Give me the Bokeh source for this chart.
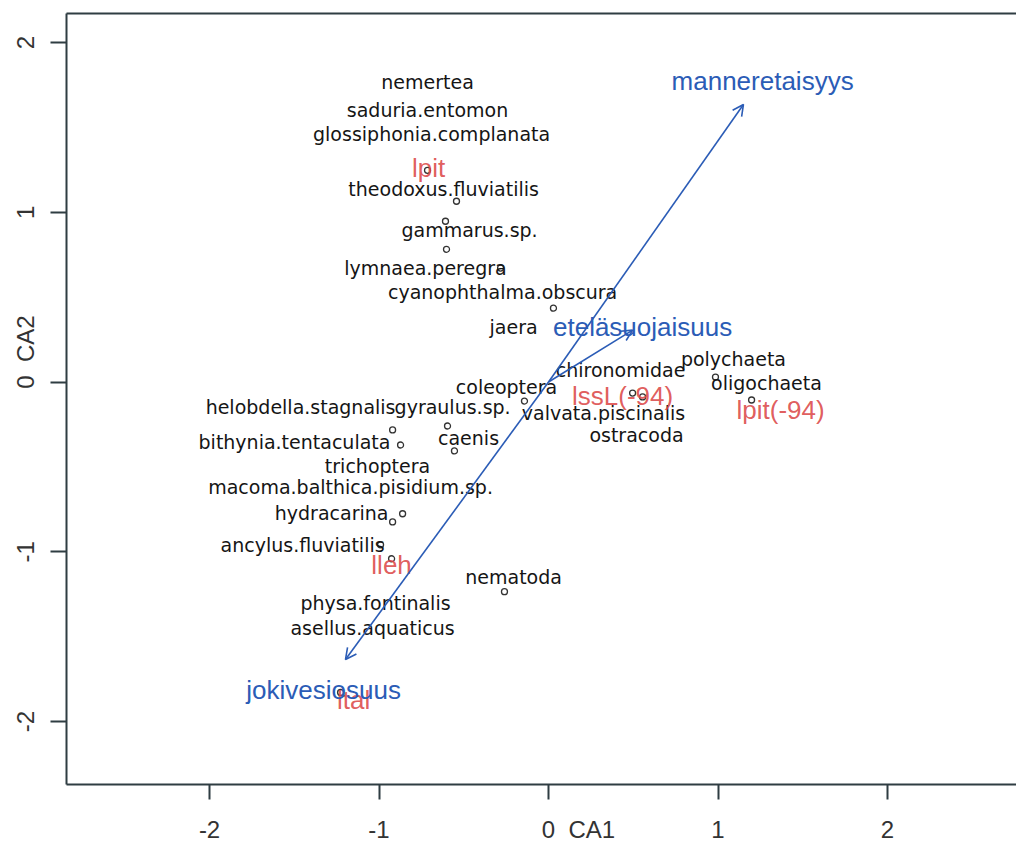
from bokeh.plotting import figure
from bokeh.models import (ColumnDataSource, FixedTicker, LinearAxis, Range1d,
                          Arrow, OpenHead)
from bokeh.core.properties import value
from bokeh.embed import file_html
from bokeh.resources import INLINE

# ---- data (CA1, CA2 scores) ----
species = ["nemertea", "saduria.entomon", "glossiphonia.complanata",
           "theodoxus.fluviatilis", "gammarus.sp.", "lymnaea.peregra",
           "cyanophthalma.obscura", "jaera", "chironomidae", "polychaeta",
           "oligochaeta", "coleoptera", "helobdella.stagnalis", "gyraulus.sp.",
           "valvata.piscinalis", "ostracoda", "bithynia.tentaculata", "caenis",
           "trichoptera", "macoma.balthica.pisidium.sp.", "hydracarina",
           "ancylus.fluviatilis", "nematoda", "physa.fontinalis",
           "asellus.aquaticus"]
species_ca1 = [-0.714, -0.714, -0.690, -0.619, -0.466, -0.726, -0.271, -0.206,
               0.425, 1.091, 1.286, -0.248, -1.463, -0.566, 0.324, 0.519,
               -1.499, -0.472, -1.009, -1.168, -1.280, -1.451, -0.206, -1.021,
               -1.038]
species_ca2 = [1.765, 1.600, 1.459, 1.135, 0.894, 0.671, 0.529, 0.324,
               0.071, 0.135, -0.006, -0.029, -0.147, -0.147, -0.182, -0.312,
               -0.353, -0.329, -0.494, -0.618, -0.771, -0.959, -1.147, -1.300,
               -1.447]

site_ca1 = [-0.714, -0.543, -0.608, -0.602, -0.283, 0.029, 0.985, 1.198,
            -0.142, 0.496, 0.555, -0.920, -0.873, -0.596, -0.555, -0.861,
            -0.920, -0.991, -0.926, -0.260, -1.227]
site_ca2 = [1.247, 1.065, 0.947, 0.782, 0.671, 0.435, 0.029, -0.106,
            -0.112, -0.065, -0.088, -0.282, -0.371, -0.259, -0.406, -0.776,
            -0.824, -0.959, -1.041, -1.235, -1.829]

factor_names = ["lpit", "lssL(-94)", "lpit(-94)", "lleh", "ltal"]
factor_ca1 = [-0.708, 0.437, 1.369, -0.926, -1.150]
factor_ca2 = [1.259, -0.082, -0.165, -1.076, -1.871]

vector_names = ["manneretaisyys", "eteläsuojaisuus", "jokivesiosuus"]
vector_ca1 = [1.150, 0.496, -1.198]
vector_ca2 = [1.635, 0.306, -1.635]
vector_label_ca1 = [1.263, 0.555, -1.327]
vector_label_ca2 = [1.776, 0.324, -1.812]

x_ticks = [-2, -1, 0, 1, 2]
y_ticks = [-2, -1, 0, 1, 2]
x_tick_labels = ["-2", "-1", "0", "1", "2"]
y_tick_labels = ["-2", "-1", "0", "1", "2"]
x_title = "CA1"
y_title = "CA2"

# ---- styling ----
AX = "#2f3d42"
TXT = "#333333"
BLUE = "#2b5cb6"
RED = "#dc4a4a"
BLACK = "#151515"
SANS = "Liberation Sans"
NB = "\u00a0"

p = figure(width=1016, height=845, output_backend="svg", toolbar_location=None,
           x_range=Range1d(-2.844, 2.761), y_range=Range1d(-2.371, 2.171),
           min_border_left=66, min_border_right=0, min_border_top=13,
           min_border_bottom=60, background_fill_color="white",
           border_fill_color="white")
p.outline_line_color = None
p.grid.visible = False


def tick_overrides(ticks, labels, title):
    out = {}
    for t, lab in zip(ticks, labels):
        if t == 0:
            # axis title sits right after the zero label, as in the original
            out[t] = NB * 9 + lab + NB * 2 + title
        else:
            out[t] = lab
    return out


for ax, ticks, labels, title in ((p.xaxis[0], x_ticks, x_tick_labels, x_title),
                                 (p.yaxis[0], y_ticks, y_tick_labels, y_title)):
    ax.ticker = FixedTicker(ticks=ticks)
    ax.major_label_overrides = tick_overrides(ticks, labels, title)
    ax.axis_line_color = AX
    ax.axis_line_width = 2
    ax.major_tick_line_color = AX
    ax.major_tick_line_width = 2
    ax.major_tick_in = 0
    ax.minor_tick_line_color = None
    ax.major_label_text_color = TXT
    ax.major_label_text_font = SANS
    ax.major_label_text_font_size = "24px"

p.xaxis[0].major_tick_out = 15
p.xaxis[0].major_label_standoff = 16
p.yaxis[0].major_tick_out = 16
p.yaxis[0].major_label_standoff = 11
p.yaxis[0].major_label_orientation = "vertical"

top = LinearAxis(ticker=FixedTicker(ticks=[]), axis_line_color=AX,
                 axis_line_width=2, major_tick_line_color=None,
                 minor_tick_line_color=None, major_label_text_font_size="0px")
p.add_layout(top, "above")

# site points
p.scatter(site_ca1, site_ca2, marker="circle", size=6, fill_color=None,
          line_color="#333333", line_width=1.3)

# species names
sp = ColumnDataSource(dict(x=species_ca1, y=species_ca2, t=species))
p.text("x", "y", text="t", source=sp, text_align="center",
       text_baseline="middle", text_color=BLACK,
       text_font=value("DejaVu Sans"), text_font_size="19px")

# factor centroids
fc = ColumnDataSource(dict(x=factor_ca1, y=factor_ca2, t=factor_names))
p.text("x", "y", text="t", source=fc, text_align="center",
       text_baseline="middle", text_color=RED, text_alpha=0.9,
       text_font=value(SANS), text_font_size="26px")

# vectors
vs = ColumnDataSource(dict(x0=[0] * len(vector_ca1), y0=[0] * len(vector_ca2),
                           x1=vector_ca1, y1=vector_ca2))
p.add_layout(Arrow(end=OpenHead(size=11, line_color=BLUE, line_width=1.6),
                   x_start="x0", y_start="y0", x_end="x1", y_end="y1",
                   source=vs, line_color=BLUE, line_width=1.6))
vl = ColumnDataSource(dict(x=vector_label_ca1, y=vector_label_ca2,
                           t=vector_names))
p.text("x", "y", text="t", source=vl, text_align="center",
       text_baseline="middle", text_color=BLUE,
       text_font=value(SANS), text_font_size="26px")

open("out.html", "w").write(file_html(p, INLINE))
